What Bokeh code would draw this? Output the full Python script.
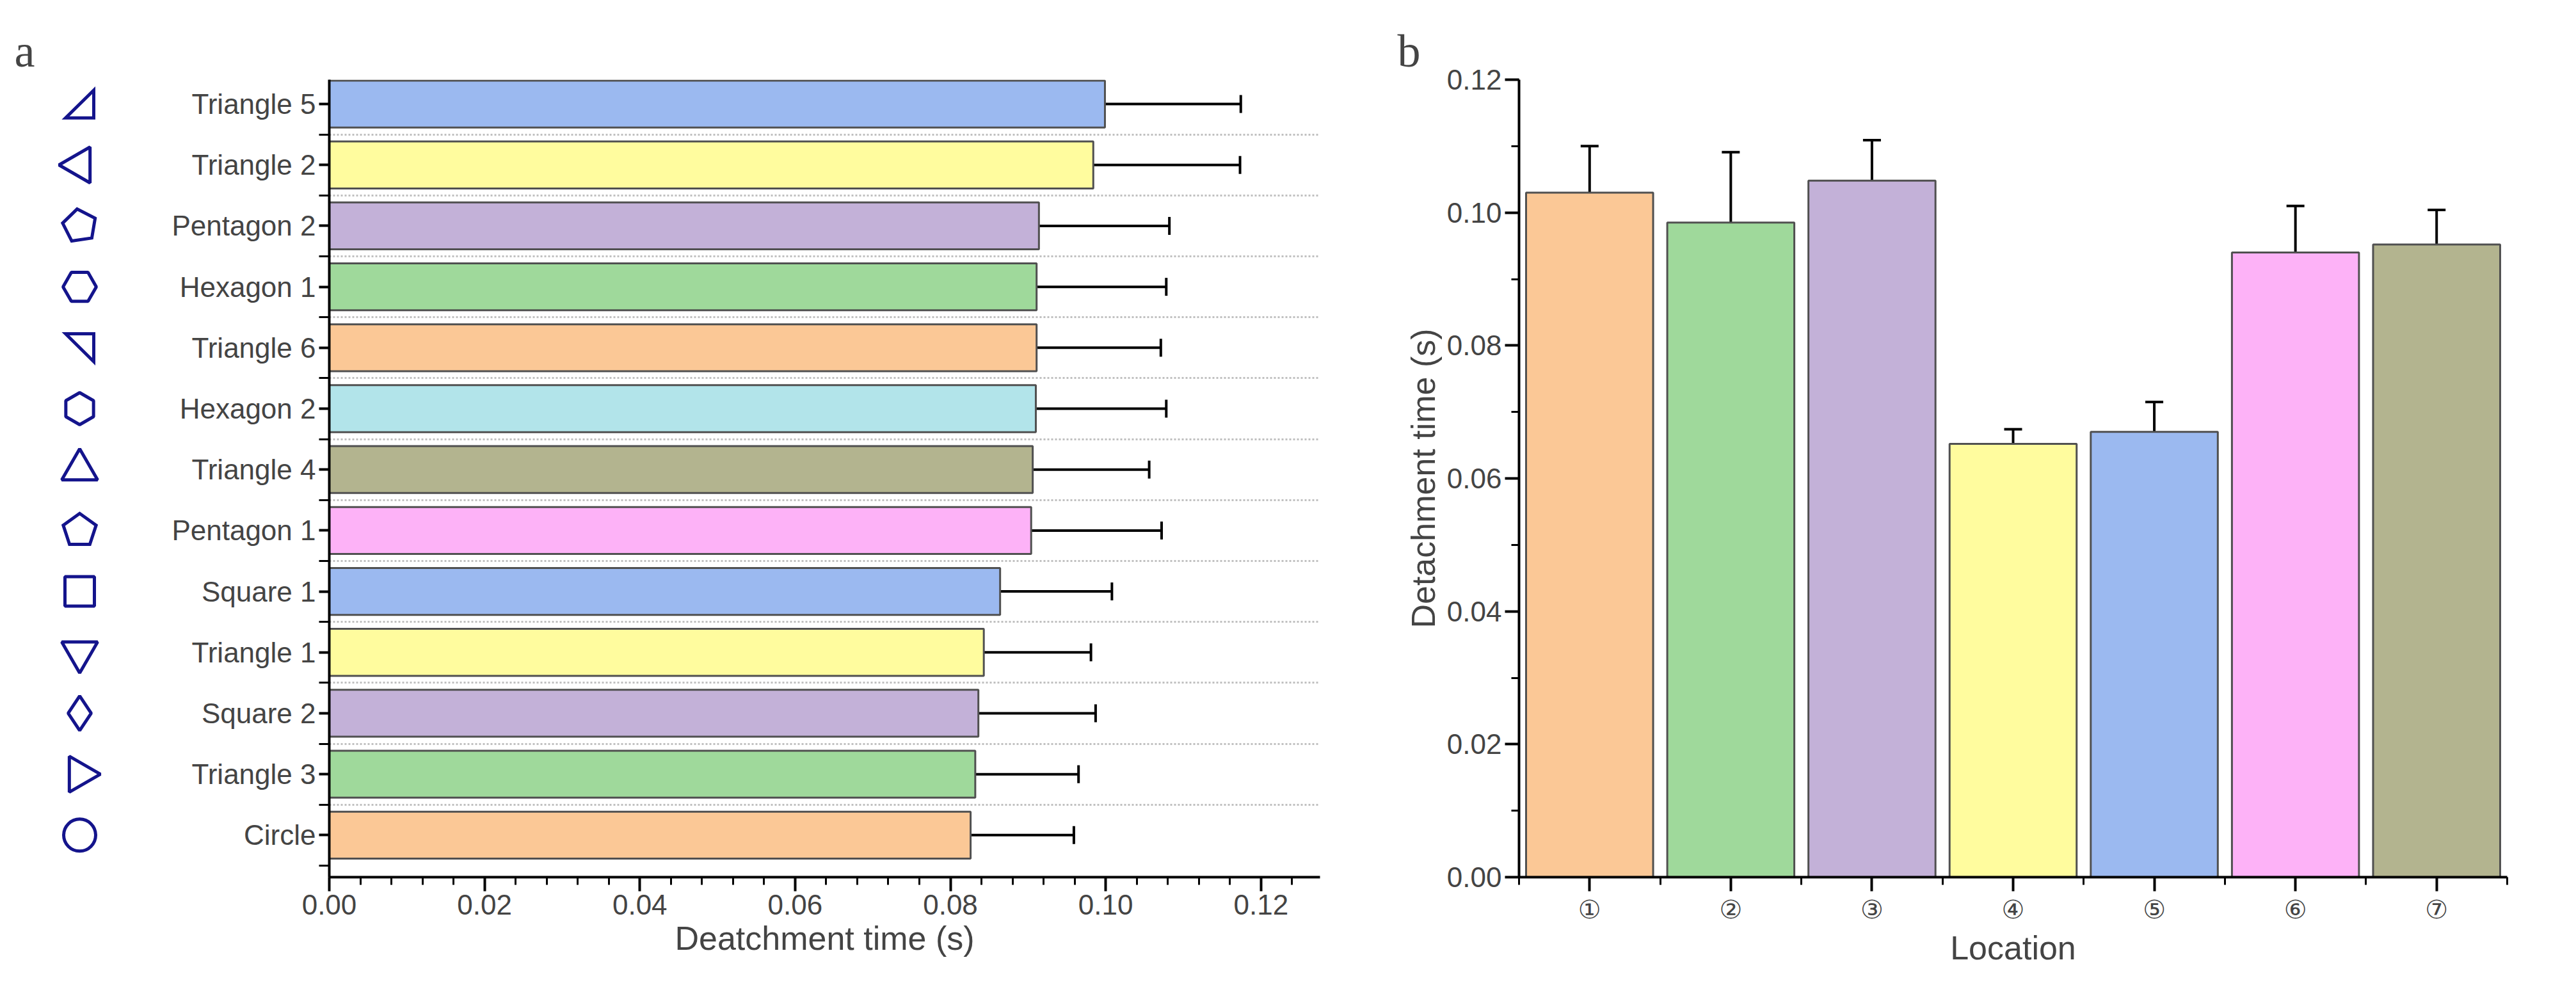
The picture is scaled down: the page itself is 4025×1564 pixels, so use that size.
import numpy as np
from bokeh.plotting import figure
from bokeh.layouts import row
from bokeh.models import Range1d, FixedTicker, Whisker, ColumnDataSource, TeeHead, CustomJSTickFormatter
from bokeh.embed import file_html
from bokeh.resources import INLINE

# ---------- data ----------
shapes = ["Circle", "Triangle 3", "Square 2", "Triangle 1", "Square 1", "Pentagon 1",
          "Triangle 4", "Hexagon 2", "Triangle 6", "Hexagon 1", "Pentagon 2",
          "Triangle 2", "Triangle 5"]
shape_time = [0.0826, 0.0832, 0.0836, 0.0843, 0.0864, 0.0904, 0.0906, 0.0910,
              0.0911, 0.0911, 0.0914, 0.0984, 0.0999]
shape_err = [0.0133, 0.0133, 0.0151, 0.0138, 0.0144, 0.0168, 0.0150, 0.0168,
             0.0160, 0.0167, 0.0168, 0.0189, 0.0175]
shape_colors = ["#FBC896", "#9FD99B", "#C3B1D8", "#FFFC9E", "#9BB9F0", "#FDB2F7",
                "#B3B48F", "#B2E4EA", "#FBC896", "#9FD99B", "#C3B1D8", "#FFFC9E", "#9BB9F0"]

locations = ["①", "②", "③", "④", "⑤", "⑥", "⑦"]
loc_time = [0.1030, 0.0985, 0.1048, 0.0652, 0.0670, 0.0940, 0.0952]
loc_err = [0.0070, 0.0106, 0.0061, 0.0022, 0.0045, 0.0070, 0.0052]
loc_colors = ["#FBC896", "#9FD99B", "#C3B1D8", "#FFFC9E", "#9BB9F0", "#FDB2F7", "#B3B48F"]

FONT = "Liberation Sans Narrow, Liberation Sans, Arial"
NAVY = "#14148C"
H = 1540
TOP_L, BOT = 107, 170
YR = (-0.69, 12.4)

def tee():
    return TeeHead(size=28, line_width=4, line_color="black")

def style_axes(p):
    for ax in (p.xaxis, p.yaxis):
        ax.axis_line_width = 4
        ax.major_tick_line_width = 4
        ax.minor_tick_line_width = 3
        ax.major_tick_out = 22
        ax.major_tick_in = 0
        ax.minor_tick_out = 12
        ax.minor_tick_in = 0
        ax.major_label_text_font = FONT
        ax.major_label_text_font_size = "44px"
        ax.axis_label_text_font = FONT
        ax.axis_label_text_font_size = "52px"
        ax.axis_label_text_font_style = "normal"

# ---------- icon strip ----------
ic = figure(width=220, height=H, x_range=Range1d(0, 220), y_range=Range1d(*YR),
            output_backend="svg", toolbar_location=None, min_border_left=0,
            min_border_right=0, min_border_top=TOP_L, min_border_bottom=BOT)
ic.axis.visible = False
ic.grid.visible = False
ic.outline_line_color = None
ic.title.text = "a"
ic.title.text_font = "Liberation Serif"
ic.title.text_font_style = "normal"
ic.title.text_font_size = "72px"
ic.title.offset = 22
ic.title.align = "left"

yidx = list(range(len(shapes)))
frame_h = H - TOP_L - BOT
ppu = frame_h / (YR[1] - YR[0])
cx = 124
markers = {"Circle": ("circle", 0), "Triangle 3": ("triangle", -np.pi / 2),
           "Square 2": ("diamond", 0), "Triangle 1": ("inverted_triangle", 0),
           "Square 1": ("square", 0), "Triangle 4": ("triangle", 0),
           "Hexagon 2": ("hex", np.pi / 6), "Hexagon 1": ("hex", 0),
           "Triangle 2": ("triangle", np.pi / 2)}
sizes = {"Circle": 50, "Square 2": 54, "Square 1": 46, "Hexagon 2": 50, "Hexagon 1": 52}
for i, s in enumerate(shapes):
    if s in markers:
        m, a = markers[s]
        ic.scatter([cx], [i], marker=m, angle=a, size=sizes.get(s, 56),
                   fill_color=None, line_color=NAVY, line_width=5)
xs, ys = [], []
for i, s in enumerate(shapes):
    if s.startswith("Pentagon"):
        rot = np.pi / 2 if s == "Pentagon 1" else np.pi / 10 + 0.15
        th = rot + np.arange(5) * 2 * np.pi / 5
        px, py = 27 * np.cos(th), 27 * np.sin(th)
    elif s == "Triangle 6":
        px, py = np.array([-22, 22, 22]), np.array([22, 22, -22])
    elif s == "Triangle 5":
        px, py = np.array([-22, 22, 22]), np.array([-22, -22, 22])
    else:
        continue
    xs.append(list(cx + px))
    ys.append(list(i + py / ppu))
ic.patches(xs, ys, fill_color=None, line_color=NAVY, line_width=5, line_join="miter")

# ---------- panel a ----------
pa = figure(width=1922, height=H, x_range=Range1d(0, 0.1276), y_range=Range1d(*YR),
            output_backend="svg", toolbar_location=None, min_border_left=294,
            min_border_right=80, min_border_top=TOP_L, min_border_bottom=BOT)
pa.outline_line_color = None
pa.xgrid.visible = False
pa.ygrid.ticker = FixedTicker(ticks=[i + 0.5 for i in range(12)])
pa.ygrid.grid_line_color = "#c0c0c0"
pa.ygrid.grid_line_dash = "3 3"
pa.ygrid.grid_line_width = 3
src_a = ColumnDataSource(dict(y=yidx, t=shape_time, c=shape_colors,
                              lo=[t - e for t, e in zip(shape_time, shape_err)],
                              hi=[t + e for t, e in zip(shape_time, shape_err)]))
pa.hbar(y="y", right="t", left=0, height=0.77, fill_color="c", line_color="#505050",
        line_width=3, source=src_a)
pa.add_layout(Whisker(base="y", lower="lo", upper="hi", dimension="width", source=src_a,
                      line_color="black", line_width=4,
                      upper_head=tee(), lower_head=tee()))
pa.yaxis.ticker = FixedTicker(ticks=yidx, minor_ticks=[i + 0.5 for i in range(-1, 13)])
pa.yaxis.major_label_overrides = {i: s for i, s in enumerate(shapes)}
pa.xaxis.ticker = FixedTicker(ticks=[0, 0.02, 0.04, 0.06, 0.08, 0.10, 0.12],
                              minor_ticks=list(np.arange(0, 0.1281, 0.004)))
pa.xaxis.formatter = CustomJSTickFormatter(code="return tick.toFixed(2);")
pa.xaxis.axis_label = "Deatchment time (s)"
style_axes(pa)
pa.yaxis.major_tick_out = 16
pa.yaxis.minor_tick_out = 16

# ---------- panel b ----------
TOP_R = 124
pb = figure(width=1850, height=H, x_range=Range1d(0.5, 7.5), y_range=Range1d(0, 0.12),
            output_backend="svg", toolbar_location=None, min_border_left=231,
            min_border_right=75, min_border_top=TOP_R, min_border_bottom=BOT)
pb.outline_line_color = None
pb.grid.visible = False
pb.title.text = "b"
pb.title.text_font = "Liberation Serif"
pb.title.text_font_style = "normal"
pb.title.text_font_size = "72px"
pb.title.align = "left"
pb.title.offset = -190
xi = list(range(1, 8))
src_b = ColumnDataSource(dict(x=xi, t=loc_time, c=loc_colors,
                              lo=[t - e for t, e in zip(loc_time, loc_err)],
                              hi=[t + e for t, e in zip(loc_time, loc_err)]))
pb.vbar(x="x", top="t", bottom=0, width=0.9, fill_color="c", line_color="#505050",
        line_width=3, source=src_b)
pb.add_layout(Whisker(base="x", lower="lo", upper="hi", dimension="height", source=src_b,
                      line_color="black", line_width=4,
                      upper_head=tee(), lower_head=tee()))
pb.xaxis.ticker = FixedTicker(ticks=xi, minor_ticks=[i + 0.5 for i in range(0, 8)])
pb.xaxis.major_label_overrides = {i + 1: s for i, s in enumerate(locations)}
pb.yaxis.ticker = FixedTicker(ticks=[0, 0.02, 0.04, 0.06, 0.08, 0.10, 0.12],
                              minor_ticks=list(np.arange(0, 0.121, 0.01)))
pb.yaxis.formatter = CustomJSTickFormatter(code="return tick.toFixed(2);")
pb.xaxis.axis_label = "Location"
pb.yaxis.axis_label = "Detachment time (s)"
style_axes(pb)
pb.xaxis.major_label_text_font = "DejaVu Sans"
pb.xaxis.major_label_text_font_size = "40px"

lay = row(ic, pa, pb)
open("out.html", "w").write(file_html(lay, INLINE))
